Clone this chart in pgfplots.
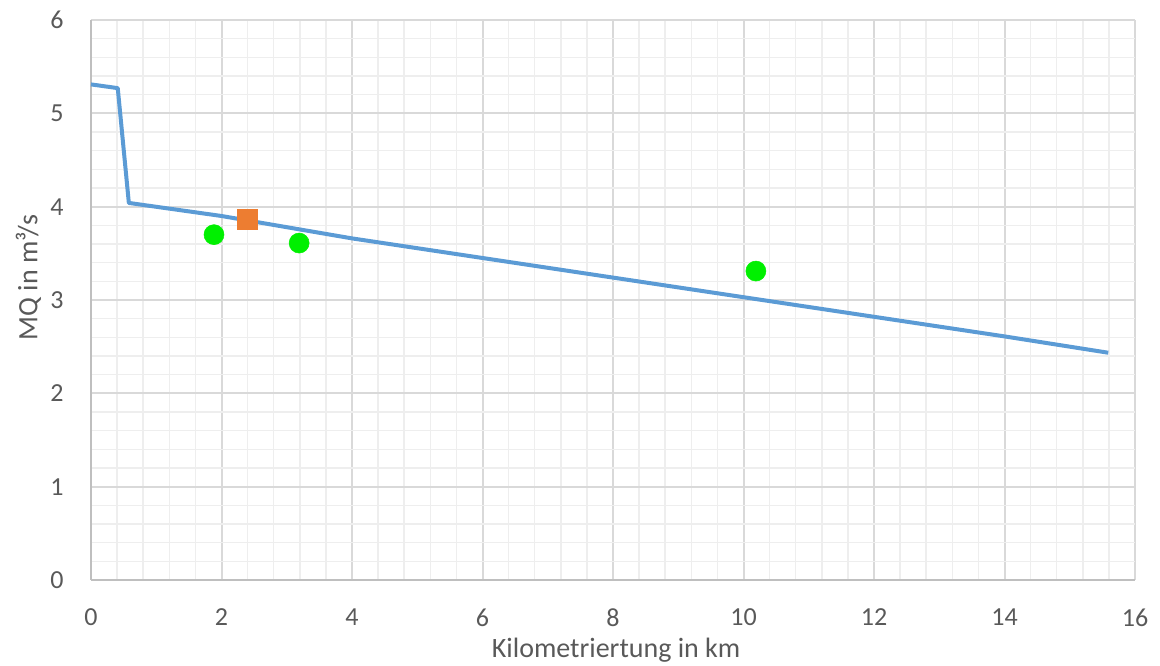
\documentclass[border=0pt]{standalone}
\usepackage{pgfplots}
\pgfplotsset{compat=1.18}
\usepackage{fontspec}
\setmainfont{Carlito}
\definecolor{txt}{HTML}{595959}
\definecolor{majgrid}{HTML}{D9D9D9}
\definecolor{mingrid}{HTML}{EEEEEE}
\definecolor{axln}{HTML}{BFBFBF}
\definecolor{mqblue}{HTML}{5B9BD5}
\definecolor{ptgreen}{HTML}{00F000}
\definecolor{ptorange}{HTML}{ED7D31}
\begin{document}
\begin{tikzpicture}
\begin{axis}[
  scale only axis,
  width=783pt, height=420pt,
  xmin=0, xmax=16, ymin=0, ymax=6,
  xtick={0,2,...,16}, ytick={0,1,...,6},
  minor x tick num=4, minor y tick num=4,
  grid=both,
  major grid style={majgrid, line width=1.5pt},
  minor grid style={mingrid, line width=1.1pt},
  axis x line=bottom, axis y line=left,
  axis line style={axln, line width=1.5pt, -},
  tick style={draw=none},
  major tick length=0pt, minor tick length=0pt,
  /pgf/number format/assume math mode=true,
  ticklabel style={font=\fontsize{19.5}{23}\selectfont, text=txt},
  xticklabel style={yshift=-18pt},
  yticklabel style={xshift=-17pt},
  label style={font=\fontsize{21}{25}\selectfont, text=txt},
  xlabel={Kilometriertung in km},
  ylabel={MQ in m³/s},
  xlabel style={at={(axis description cs:0.503,-0.125)}, anchor=center},
  ylabel style={at={(axis description cs:-0.060,0.54)}, anchor=center},
  clip=false,
]
% mean discharge along the river course
\addplot[mqblue, line width=3pt, line join=round] coordinates {
  (0,5.31) (0.41,5.27) (0.58,4.04) (2,3.90) (4,3.66) (6,3.45)
  (8,3.24) (10,3.03) (12,2.82) (14,2.61) (15.59,2.435)
};
% gauge values
\addplot[only marks, mark=*, mark size=7.5pt, mark options={fill=ptgreen, draw=ptgreen}] coordinates {
  (1.885,3.70) (3.19,3.61) (10.19,3.31)
};
\addplot[only marks, mark=square*, mark size=7.5pt, mark options={fill=ptorange, draw=ptorange}] coordinates {
  (2.39,3.86)
};
\end{axis}
\pgfresetboundingbox
\path (current axis.south west) ++(-68.25pt,-64.5pt) coordinate (bbA);
\path (current axis.north east) ++(18.75pt,15pt) coordinate (bbB);
\path[use as bounding box] (bbA) rectangle (bbB);
\end{tikzpicture}
\end{document}
